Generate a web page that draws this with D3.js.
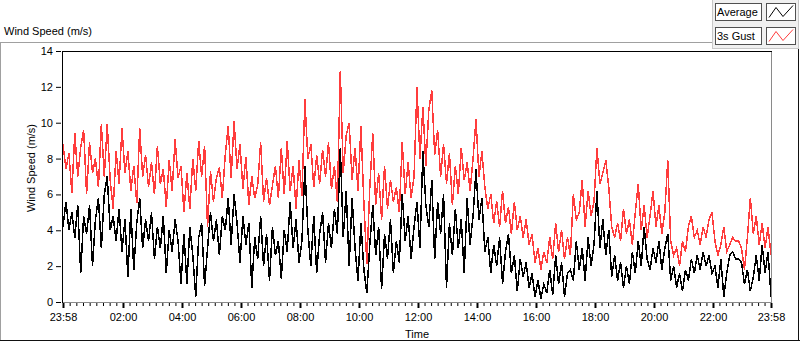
<!DOCTYPE html>
<html>
<head>
<meta charset="utf-8">
<script src="https://cdn.jsdelivr.net/npm/d3@7"></script>
<style>
  body { margin: 0; background: #fff; }
  svg text { font-family: "Liberation Sans", Arial, sans-serif; font-size: 11px; fill: #000; }
</style>
</head>
<body>
<script>
var svgWidth = 800;
var svgHeight = 342;

// plot area edges (pixels)
var plot = { left: 63, right: 771, top: 51, bottom: 302 };

// logger samples every 6 minutes starting 23:58 the day before
var stepMinutes = 6;
var startTime = new Date(2020, 0, 1, 23, 58);
var endTime = new Date(2020, 0, 2, 23, 58);

var seriesNames = ["Average", "3s Gust"];
var seriesColors = ["#000000", "#ff3c3c"];

var timeLabels = ["23:58", "02:00", "04:00", "06:00", "08:00", "10:00", "12:00",
  "14:00", "16:00", "18:00", "20:00", "22:00", "23:58"];
var speedTicks = [0, 2, 4, 6, 8, 10, 12, 14];

// 3s gust (m/s)
var gustValues = [
  8.8,7.4,8.3,6.1,9.4,7.0,8.6,9.6,6.0,8.9,7.2,8.0,6.4,9.9,7.0,9.9,6.8,5.2,8.4,6.6,9.7,
  7.2,8.4,6.2,7.6,5.5,9.7,7.0,8.2,6.4,7.8,6.0,8.7,6.6,7.4,5.3,7.9,6.2,9.1,6.9,7.6,
  5.0,7.2,5.2,8.0,6.2,9.0,7.0,8.7,4.2,7.3,5.6,6.9,7.5,5.8,8.2,9.8,6.9,10.1,7.4,8.8,
  6.3,8.1,5.4,7.0,5.8,6.5,8.9,5.6,6.9,5.4,6.5,7.6,5.8,8.6,6.0,9.0,6.2,7.6,5.2,7.9,
  5.9,11.3,8.0,8.8,6.4,8.2,6.6,8.5,7.0,8.9,6.3,7.6,5.6,12.9,7.2,9.3,10.0,6.8,8.6,6.2,
  9.8,5.5,2.1,6.4,9.4,5.4,7.2,4.6,7.6,5.2,6.8,5.6,6.4,5.0,8.9,6.0,7.8,5.8,7.0,12.0,
  8.0,10.9,7.6,10.7,11.8,8.2,9.6,7.0,8.8,6.6,8.3,5.4,7.6,6.0,8.6,6.8,7.8,6.2,8.0,10.2,
  7.0,8.4,6.4,5.2,6.0,4.4,5.6,4.2,6.2,4.4,5.3,3.8,5.6,4.0,4.8,3.6,4.6,3.2,3.8,2.2,
  3.0,1.8,2.8,2.2,3.6,2.4,4.4,2.8,4.0,2.4,3.6,2.6,6.0,4.6,5.0,6.8,4.2,6.2,4.8,5.6,
  8.6,6.6,7.2,7.9,6.4,4.2,3.6,4.4,3.4,5.2,3.8,4.6,3.2,5.0,6.6,4.0,5.4,3.6,4.8,6.2,
  4.2,5.4,3.8,5.0,7.9,3.4,2.6,3.0,2.0,3.4,2.8,4.2,4.8,3.6,4.0,3.2,4.2,3.6,4.6,5.0,
  3.4,2.6,3.2,4.2,2.8,3.2,3.6,3.4,3.4,3.0,1.8,3.6,5.8,3.8,4.8,3.2,4.4,3.0,4.2,2.6
];

// average wind speed (m/s)
var averageValues = [
  4.2,5.6,4.0,5.0,3.6,5.4,1.6,4.8,3.8,5.4,2.0,4.6,5.8,3.0,6.0,7.0,4.0,4.8,3.4,5.2,2.8,
  4.6,1.4,5.2,1.8,4.4,5.8,3.0,4.6,3.4,5.0,2.4,4.2,3.0,4.8,1.6,4.0,2.8,4.6,3.4,1.0,
  3.8,1.0,4.2,2.6,0.3,3.6,4.4,0.9,3.0,5.0,3.4,4.6,2.6,4.8,4.0,5.8,3.2,6.0,4.4,2.2,
  4.8,3.2,4.4,0.8,3.6,2.4,4.8,2.0,3.8,1.2,4.2,2.6,3.4,1.3,4.0,2.8,5.6,3.0,4.6,2.2,
  3.4,7.6,4.0,2.0,4.8,1.6,3.8,5.0,2.2,4.4,3.0,5.2,3.8,8.6,3.6,6.2,2.0,5.8,3.0,1.2,
  4.4,1.8,0.5,3.2,5.4,2.6,4.2,0.7,3.8,2.4,4.6,1.6,3.4,2.2,6.0,3.4,4.8,2.4,4.2,5.6,
  3.0,8.4,5.4,4.2,6.8,2.4,5.6,3.8,6.0,0.8,4.4,2.6,5.2,3.0,4.6,1.6,5.8,3.2,4.8,7.4,
  4.6,5.8,2.8,3.6,1.6,3.2,2.0,3.6,1.0,2.8,3.8,1.6,2.6,0.6,2.4,1.4,2.2,0.8,1.6,0.3,
  1.2,0.2,1.0,0.5,1.8,0.4,2.6,1.0,2.2,0.3,1.6,1.8,1.2,3.4,1.8,3.0,1.2,3.6,2.0,3.2,
  6.2,3.0,4.6,2.6,4.0,1.4,2.6,1.2,2.2,0.8,2.0,1.0,2.8,1.6,3.4,2.0,4.2,2.4,1.8,3.0,
  2.2,3.4,1.8,3.0,3.8,1.2,2.0,0.8,1.6,0.6,1.8,1.2,2.4,1.6,2.6,1.8,2.8,2.0,2.6,1.6,
  2.0,0.8,2.4,0.3,1.6,2.6,2.8,2.4,2.4,2.2,1.0,1.8,0.6,1.4,2.6,1.2,3.2,1.6,2.8,0.3
];

var sampleTimes = averageValues.map(function(d, i) {
  return d3.timeMinute.offset(startTime, i * stepMinutes);
});

// label times: first one is the day before, the rest the logged day
var majorTimes = timeLabels.map(function(lbl, i) {
  if (i === 0) return startTime;
  var p = lbl.split(":");
  return new Date(2020, 0, 2, +p[0], +p[1]);
});
// 8 minor ticks between each pair of labels
var minorTimes = [];
for (var k = 0; k < majorTimes.length - 1; k++) {
  var t0 = +majorTimes[k], t1 = +majorTimes[k + 1];
  for (var j = 1; j < 9; j++) minorTimes.push(new Date(t0 + (t1 - t0) * j / 9));
}

var svg = d3.select("body")
  .append("svg")
  .attr("width", svgWidth)
  .attr("height", svgHeight);

var xScale = d3.scaleTime()
  .domain([startTime, endTime])
  .range([plot.left, plot.right]);

var yScale = d3.scaleLinear()
  .domain([0, 14])
  .range([plot.bottom, plot.top]);

// outer panel frame
svg.append("line").attr("x1", 0).attr("x2", 712).attr("y1", 42.5).attr("y2", 42.5).attr("stroke", "#a0a0a0");
svg.append("line").attr("x1", 0.5).attr("x2", 0.5).attr("y1", 42).attr("y2", 341).attr("stroke", "#a0a0a0");
svg.append("line").attr("x1", 0).attr("x2", 800).attr("y1", 340.5).attr("y2", 340.5).attr("stroke", "#111");
svg.append("line").attr("x1", 798.5).attr("x2", 798.5).attr("y1", 0).attr("y2", 341).attr("stroke", "#111");

svg.append("text")
  .attr("x", 4)
  .attr("y", 35)
  .text("Wind Speed (m/s)");

// plot background
svg.append("rect")
  .attr("x", plot.left)
  .attr("y", plot.top)
  .attr("width", plot.right - plot.left)
  .attr("height", plot.bottom - plot.top)
  .attr("fill", "#fff");

// lines
var lineGen = d3.line()
  .x(function(d) { return xScale(d.t); })
  .y(function(d) { return yScale(d.v); });

var series = [averageValues, gustValues].map(function(vals) {
  return vals.map(function(v, i) { return { t: sampleTimes[i], v: v }; });
});

// gust under the average
[1, 0].forEach(function(s) {
  svg.append("path")
    .datum(series[s])
    .attr("d", lineGen)
    .attr("fill", "none")
    .attr("stroke", seriesColors[s])
    .attr("stroke-width", 1.5)
    .attr("stroke-linejoin", "miter")
    .attr("shape-rendering", "crispEdges");
});

// plot border: dark top/left, grey bottom/right
svg.append("line").attr("x1", 62.5).attr("x2", 772).attr("y1", 51.5).attr("y2", 51.5).attr("stroke", "#000");
svg.append("line").attr("x1", 62.5).attr("x2", 62.5).attr("y1", 51).attr("y2", 303).attr("stroke", "#000");
svg.append("line").attr("x1", 771.5).attr("x2", 771.5).attr("y1", 52).attr("y2", 303).attr("stroke", "#8a8a8a");
svg.append("line").attr("x1", 63).attr("x2", 772).attr("y1", 302.5).attr("y2", 302.5).attr("stroke", "#8a8a8a");

// y axis
var leftAxis = d3.axisLeft(yScale)
  .tickValues(speedTicks)
  .tickSize(5)
  .tickPadding(3);

var yAxisG = svg.append("g")
  .attr("transform", "translate(61, 0)")
  .call(leftAxis);
yAxisG.select(".domain").remove();
yAxisG.attr("font-size", null).attr("font-family", null);

// x axis, minor ticks first
var minorAxis = d3.axisBottom(xScale)
  .tickValues(minorTimes)
  .tickSize(3)
  .tickFormat("");
var xMinorG = svg.append("g")
  .attr("transform", "translate(0, 303)")
  .call(minorAxis);
xMinorG.select(".domain").remove();

var bottomAxis = d3.axisBottom(xScale)
  .tickValues(majorTimes)
  .tickSize(5)
  .tickPadding(5)
  .tickFormat(function(d, i) { return timeLabels[i]; });
var xAxisG = svg.append("g")
  .attr("transform", "translate(0, 303)")
  .call(bottomAxis);
xAxisG.select(".domain").remove();
xAxisG.selectAll("line").attr("stroke-width", 2);
xAxisG.attr("font-size", null).attr("font-family", null);

// axis titles
svg.append("text")
  .attr("transform", "translate(35, 168) rotate(-90)")
  .attr("text-anchor", "middle")
  .text("Wind Speed (m/s)");

svg.append("text")
  .attr("x", 417)
  .attr("y", 338)
  .attr("text-anchor", "middle")
  .text("Time");

// legend panel
var legend = svg.append("g");
legend.append("rect")
  .attr("x", 712.5).attr("y", -1)
  .attr("width", 86).attr("height", 49.5)
  .attr("fill", "#f0f0f0")
  .attr("stroke", "#c8c8c8");

var zigzag = d3.line();
seriesNames.forEach(function(name, i) {
  var top = 3.5 + i * 24;
  legend.append("rect")
    .attr("x", 715.5).attr("y", top)
    .attr("width", 46).attr("height", 17)
    .attr("fill", "#fff").attr("stroke", "#505050");
  legend.append("text")
    .attr("x", 717).attr("y", top + 12.5)
    .text(name);
  legend.append("rect")
    .attr("x", 766.5).attr("y", top)
    .attr("width", 29).attr("height", 17)
    .attr("fill", "#fff").attr("stroke", "#505050");
  legend.append("path")
    .attr("d", zigzag([[769, top + 14], [776, top + 4], [783, top + 13], [793, top + 2]]))
    .attr("fill", "none")
    .attr("stroke", seriesColors[i]);
});
</script>
</body>
</html>
